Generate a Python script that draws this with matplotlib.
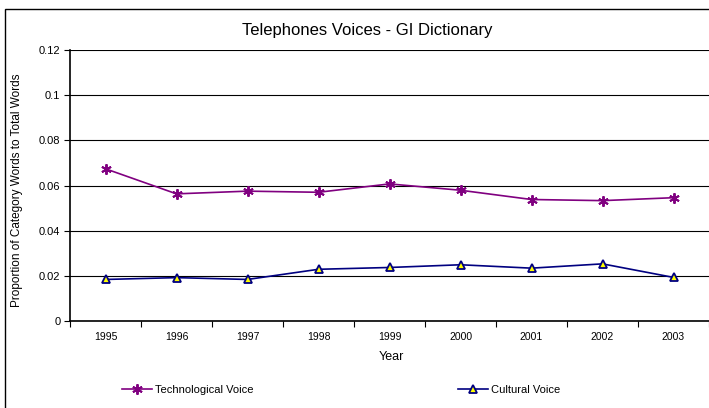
import matplotlib.pyplot as plt
from matplotlib.patches import Rectangle
import numpy as np

plt.rcParams['font.family'] = ['Liberation Sans', 'DejaVu Sans']

years = ['1995', '1996', '1997', '1998', '1999', '2000', '2001', '2002', '2003']
tech_voice = [0.0674, 0.0563, 0.0575, 0.0570, 0.0607, 0.0579, 0.0538, 0.0533, 0.0546]
cult_voice = [0.0184, 0.0192, 0.0184, 0.0229, 0.0237, 0.0249, 0.0234, 0.0253, 0.0193]
y_ticks = [0, 0.02, 0.04, 0.06, 0.08, 0.1, 0.12]
y_tick_labels = ['0', '0.02', '0.04', '0.06', '0.08', '0.1', '0.12']

fig = plt.figure(figsize=(7.09, 4.08), dpi=100)
ax = fig.add_axes([70 / 709, 1 - 321 / 408, 639 / 709, 271 / 408])

x = np.arange(len(years))
h_tech, = ax.plot(x, tech_voice, color='#800080', linewidth=1.2, marker=(6, 2, 0),
                  markersize=7.5, markeredgewidth=1.4, markeredgecolor='#800080',
                  label='Technological Voice', zorder=3)
h_cult, = ax.plot(x, cult_voice, color='#000080', linewidth=1.2, marker='^',
                  markersize=6, markerfacecolor='#FFFF00', markeredgecolor='#000080',
                  markeredgewidth=1.3, label='Cultural Voice', zorder=3)

ax.set_xlim(-0.5, len(years) - 0.5)
ax.set_ylim(0, 0.12)
ax.set_yticks(y_ticks)
ax.set_yticklabels(y_tick_labels)
ax.yaxis.grid(True, color='black', linewidth=0.8)
ax.set_axisbelow(True)

# category boundaries carry the tick marks, labels sit in between
ax.set_xticks(np.arange(-0.5, len(years), 1.0))
ax.set_xticklabels([])
ax.set_xticks(x, minor=True)
ax.set_xticklabels(years, minor=True)
ax.tick_params(axis='x', which='major', length=4, width=0.8, direction='out')
ax.tick_params(axis='x', which='minor', length=0, pad=8, labelsize=7.5)
ax.tick_params(axis='y', length=4, width=0.8, direction='out', labelsize=8, pad=3)

for side in ['top', 'right']:
    ax.spines[side].set_visible(False)
ax.spines['left'].set_linewidth(1.2)
ax.spines['bottom'].set_linewidth(1.2)

fig.text(367 / 709, 1 - 31 / 408, 'Telephones Voices - GI Dictionary',
         ha='center', va='center', fontsize=12)
fig.text(17 / 709, 1 - 190 / 408, 'Proportion of Category Words to Total Words',
         ha='center', va='center', rotation=90, fontsize=8.5)
fig.text(391 / 709, 1 - 357 / 408, 'Year', ha='center', va='center', fontsize=9)

# two separate legends so each entry sits where it does in the original
leg_kw = dict(frameon=False, fontsize=8, handlelength=2.7, handletextpad=0.25,
              borderpad=0, borderaxespad=0, loc='center left')
fig.legend(handles=[h_tech], bbox_to_anchor=(122 / 709, 1 - 390 / 408), **leg_kw)
fig.legend(handles=[h_cult], bbox_to_anchor=(458 / 709, 1 - 390 / 408), **leg_kw)

fig.patches.append(Rectangle((4.5 / 709, -0.1), 1.2, 1.1 - 9 / 408,
                             transform=fig.transFigure, fill=False,
                             edgecolor='black', linewidth=1.0))

fig.savefig('out.png', dpi=100)
